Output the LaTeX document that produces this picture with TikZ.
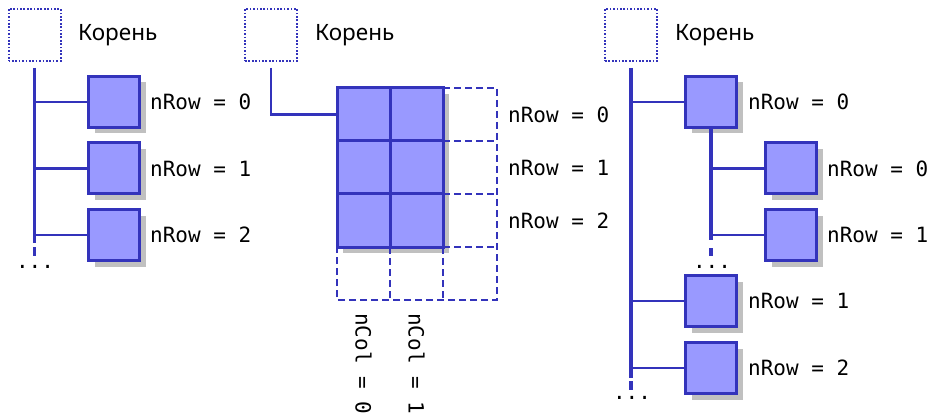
\documentclass[tikz,border=0pt]{standalone}
\usepackage{fontspec}
\setmainfont{Noto Sans}
\setmonofont{DejaVu Sans Mono}
\usetikzlibrary{shadows}
\definecolor{boxfill}{RGB}{153,153,255}
\definecolor{boxline}{RGB}{51,51,187}
\definecolor{shad}{RGB}{192,192,192}
\begin{document}
\begin{tikzpicture}[x=1pt,y=-1pt,
 rootbox/.style={draw=boxline, line width=2pt, dash pattern=on 1.7pt off 1.7pt, minimum size=52pt, inner sep=0},
 itembox/.style={draw=boxline, fill=boxfill, line width=3pt, minimum size=51pt, inner sep=0,
   drop shadow={shadow xshift=6pt, shadow yshift=-6pt, opacity=1, fill=shad}},
 cell/.style={draw=boxline, fill=boxfill, line width=3pt, minimum size=53pt, inner sep=0},
 ghost/.style={draw=boxline, line width=2.8pt, dash pattern=on 7pt off 4pt},
 link/.style={draw=boxline, line width=2.6pt},
 trunk/.style={draw=boxline, line width=3.4pt},
 more/.style={draw=boxline, line width=3.4pt},
 title/.style={font=\fontsize{22.5}{26}\selectfont, anchor=west, inner sep=0},
 lab/.style={font=\ttfamily\fontsize{21}{24}\selectfont, anchor=west, inner sep=0},
 dots/.style={font=\ttfamily\fontsize{21}{24}\selectfont, anchor=base, inner sep=0}]
\useasboundingbox[fill=white] (0,0) rectangle (931,414);

% ---------- panel 1 ----------
\node[rootbox] (r1) at (34.5,35) {};
\node[title] (t1) at (78,35) {Корень};
\coordinate (p1top) at (34.5,68);
\coordinate (p1end) at (34.5,243);
\coordinate (p1d1) at (34.5,247);
\coordinate (p1d2) at (34.5,256);
\node[itembox] (a1) at (114,102) {};
\node[itembox] (a2) at (114,168.5) {};
\node[itembox] (a3) at (114,235) {};
\draw[trunk] (p1top) -- (p1end);
\draw[more] (p1d1) -- (p1d2);
\draw[link] (a1.west) -- (a1.west -| p1top);
\draw[link] (a2.west) -- (a2.west -| p1top);
\draw[link] (a3.west) -- (a3.west -| p1top);
\node[lab] (la1) at (150,102) {nRow = 0};
\node[lab] (la2) at (150,168.5) {nRow = 1};
\node[lab] (la3) at (150,235) {nRow = 2};
\node[dots] (d1) at (35,268) {...};

% ---------- panel 2 ----------
\node[rootbox] (r2) at (271,35) {};
\node[title] (t2) at (315,35) {Корень};
\fill[shad] (343,94) rectangle (449,253);
% dashed (unused) cells
\coordinate (gA) at (443,88);
\coordinate (gB) at (497,88);
\coordinate (gC) at (497,300);
\coordinate (gD) at (337,300);
\coordinate (gE) at (337,247);
\draw[ghost] (gA) -- (gB) -- (gC) -- (gD) -- (gE);
\draw[ghost] (443,141) -- (497,141);
\draw[ghost] (443,194) -- (497,194);
\draw[ghost] (443,247) -- (497,247);
\draw[ghost] (390,247) -- (390,300);
\draw[ghost] (443,247) -- (443,300);
\node[cell] (c00) at (363.5,114.5) {};
\node[cell] (c01) at (416.5,114.5) {};
\node[cell] (c10) at (363.5,167.5) {};
\node[cell] (c11) at (416.5,167.5) {};
\node[cell] (c20) at (363.5,220.5) {};
\node[cell] (c21) at (416.5,220.5) {};
\coordinate (p2top) at (271,68);
\draw[link] (p2top) |- (c00.west);
\node[lab] (lb1) at (508,114.5) {nRow = 0};
\node[lab] (lb2) at (508,167.5) {nRow = 1};
\node[lab] (lb3) at (508,220.5) {nRow = 2};
\node[lab, rotate=-90] (lc0) at (363.5,313) {nCol = 0};
\node[lab, rotate=-90] (lc1) at (416.5,313) {nCol = 1};

% ---------- panel 3 ----------
\node[rootbox] (r3) at (631,35) {};
\node[title] (t3) at (675,35) {Корень};
\coordinate (p3top) at (631,68);
\coordinate (p3end) at (631,378);
\coordinate (p3d1) at (631,381);
\coordinate (p3d2) at (631,390);
\node[itembox] (e1) at (711,102) {};
\node[itembox] (f1) at (791,168.5) {};
\node[itembox] (f2) at (791,235) {};
\node[itembox] (e2) at (711,301) {};
\node[itembox] (e3) at (711,368) {};
\draw[trunk] (p3top) -- (p3end);
\draw[more] (p3d1) -- (p3d2);
\draw[link] (e1.west) -- (e1.west -| p3top);
\draw[link] (e2.west) -- (e2.west -| p3top);
\draw[link] (e3.west) -- (e3.west -| p3top);
\coordinate (q3end) at (711,240);
\coordinate (q3d1) at (711,248);
\coordinate (q3d2) at (711,256);
\draw[trunk] (e1.south) -- (q3end);
\draw[more] (q3d1) -- (q3d2);
\draw[link] (f1.west) -- (f1.west -| e1.south);
\draw[link] (f2.west) -- (f2.west -| e1.south);
\node[lab] (le1) at (748,102) {nRow = 0};
\node[lab] (lf1) at (827,168.5) {nRow = 0};
\node[lab] (lf2) at (827,235) {nRow = 1};
\node[lab] (le2) at (748,301) {nRow = 1};
\node[lab] (le3) at (748,368) {nRow = 2};
\node[dots] (d3a) at (712,268) {...};
\node[dots] (d3b) at (632,399) {...};
\end{tikzpicture}
\end{document}
